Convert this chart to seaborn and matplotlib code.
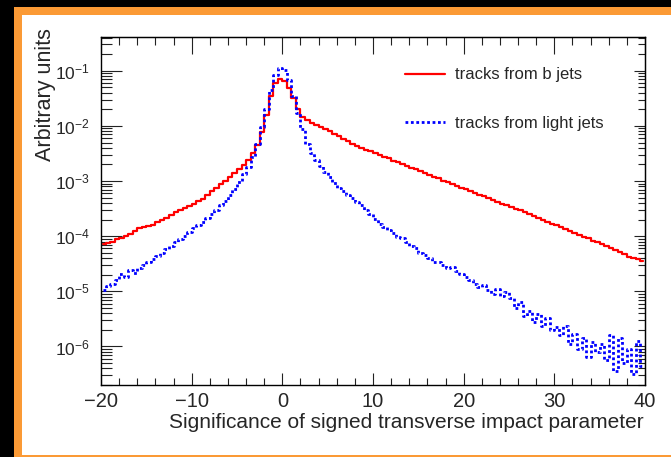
import numpy as np
import pandas as pd
import matplotlib
matplotlib.use('Agg')
import matplotlib.pyplot as plt
from matplotlib.patches import Rectangle
from matplotlib.ticker import LogLocator, MultipleLocator, NullFormatter, FixedLocator
import seaborn as sns

# histogram binning (0.5 wide bins from -20 to 40)
bin_lo, bin_hi, bin_w = -20, 40, 0.5

# log10 of the bin contents
log_b_jets = [
    -4.15, -4.12, -4.10, -4.06, -4.03, -3.99, -3.96, -3.90, -3.86, -3.84,
    -3.81, -3.79, -3.75, -3.71, -3.67, -3.62, -3.57, -3.52, -3.49, -3.45,
    -3.41, -3.37, -3.32, -3.25, -3.18, -3.12, -3.05, -2.99, -2.93, -2.86,
    -2.79, -2.71, -2.61, -2.50, -2.35, -2.11, -1.80, -1.45, -1.22, -1.15,
    -1.18, -1.31, -1.49, -1.70, -1.83, -1.89, -1.94, -1.98, -2.02, -2.06,
    -2.10, -2.14, -2.18, -2.23, -2.27, -2.32, -2.36, -2.40, -2.43, -2.46,
    -2.50, -2.53, -2.56, -2.59, -2.63, -2.66, -2.69, -2.72, -2.76, -2.79,
    -2.82, -2.86, -2.89, -2.92, -2.95, -2.99, -3.02, -3.05, -3.09, -3.12,
    -3.15, -3.18, -3.22, -3.25, -3.28, -3.31, -3.35, -3.38, -3.41, -3.44,
    -3.47, -3.50, -3.53, -3.57, -3.60, -3.63, -3.67, -3.70, -3.74, -3.77,
    -3.80, -3.84, -3.87, -3.91, -3.94, -3.98, -4.01, -4.04, -4.08, -4.11,
    -4.14, -4.18, -4.22, -4.25, -4.29, -4.33, -4.37, -4.40, -4.42, -4.45,
]
log_light_jets = [
    -4.97, -4.90, -4.86, -4.80, -4.68, -4.74, -4.62, -4.66, -4.57, -4.52,
    -4.47, -4.42, -4.36, -4.30, -4.23, -4.17, -4.11, -4.05, -3.99, -3.92,
    -3.86, -3.80, -3.74, -3.67, -3.60, -3.52, -3.44, -3.36, -3.26, -3.15,
    -3.02, -2.88, -2.74, -2.56, -2.32, -2.02, -1.70, -1.35, -1.08, -0.95,
    -0.98, -1.17, -1.46, -1.76, -2.05, -2.32, -2.49, -2.62, -2.73, -2.83,
    -2.93, -3.03, -3.12, -3.18, -3.25, -3.31, -3.38, -3.44, -3.52, -3.59,
    -3.68, -3.78, -3.83, -3.88, -3.95, -4.02, -4.04, -4.11, -4.18, -4.22,
    -4.31, -4.35, -4.40, -4.46, -4.47, -4.53, -4.58, -4.56, -4.64, -4.69,
    -4.74, -4.80, -4.86, -4.93, -4.88, -4.98, -5.04, -4.96, -5.08, -5.02,
    -5.12, -5.30, -5.20, -5.45, -5.35, -5.55, -5.42, -5.62, -5.48, -5.70,
    -5.65, -5.80, -5.62, -5.95, -5.78, -6.05, -5.85, -6.20, -5.92, -6.10,
    -5.95, -6.25, -5.80, -6.45, -5.85, -6.30, -6.05, -6.50, -5.90, -6.35,
]

labels = ['tracks from b jets', 'tracks from light jets']
x_title = 'Significance of signed transverse impact parameter'
y_title = 'Arbitrary units'
y_ticks = [1e-6, 1e-5, 1e-4, 1e-3, 1e-2, 1e-1]

centers = np.arange(bin_lo, bin_hi, bin_w) + bin_w / 2
df = pd.DataFrame({
    'sig': np.concatenate([centers, centers]),
    'val': 10 ** np.array(log_b_jets + log_light_jets),
    'sample': [labels[0]] * len(log_b_jets) + [labels[1]] * len(log_light_jets),
})

sns.set_style('ticks')
plt.rcParams['font.family'] = ['Liberation Sans', 'DejaVu Sans']
plt.rcParams['mathtext.fontset'] = 'custom'
plt.rcParams['mathtext.rm'] = 'Liberation Sans'
plt.rcParams['mathtext.it'] = 'Liberation Sans:italic'

W, H = 671, 457
fig = plt.figure(figsize=(W / 100, H / 100), dpi=100, facecolor='black')
# orange frame + white page like the slide it was cut from
fig.patches.append(Rectangle((14 / W, 0), 1, 450 / H, transform=fig.transFigure,
                             facecolor='#fb9a35', edgecolor='none', zorder=-20))
fig.patches.append(Rectangle((22 / W, 2 / H), 1, 440 / H, transform=fig.transFigure,
                             facecolor='white', edgecolor='none', zorder=-10))

ax = fig.add_axes([101 / W, 72 / H, 544 / W, 348 / H])
ax.set_facecolor('white')

sns.lineplot(data=df[df['sample'] == labels[0]], x='sig', y='val', ax=ax,
             color='#ff0000', lw=1.6, drawstyle='steps-mid', estimator=None,
             label=labels[0])
sns.lineplot(data=df[df['sample'] == labels[1]], x='sig', y='val', ax=ax,
             color='#0000ff', lw=2.0, linestyle=(0, (1, 0.95)), drawstyle='steps-mid',
             estimator=None, label=labels[1])

ax.set_yscale('log')
ax.set_xlim(-20, 40)
ax.set_ylim(2.0e-7, 0.41)
ax.set_xlabel('')
ax.set_ylabel('')

ax.xaxis.set_major_locator(MultipleLocator(10))
ax.xaxis.set_minor_locator(MultipleLocator(2))
ax.yaxis.set_major_locator(FixedLocator(y_ticks))
ax.yaxis.set_minor_locator(LogLocator(base=10, subs=np.arange(2, 10), numticks=20))
ax.yaxis.set_minor_formatter(NullFormatter())

for s in ax.spines.values():
    s.set_visible(True)
    s.set_linewidth(1.0)
    s.set_color('black')

ax.tick_params(axis='x', which='major', direction='in', length=9, width=0.8,
               labelsize=14.5, pad=5, color='#222222')
ax.tick_params(axis='x', which='minor', direction='in', length=5, width=0.8, color='#222222')
ax.tick_params(axis='y', which='major', direction='in', length=15, width=0.8,
               labelsize=12.5, pad=8, color='#222222')
ax.tick_params(axis='y', which='minor', direction='in', length=8, width=0.8, color='#222222')

# ticks on the opposite sides are drawn with their own lengths
secx = ax.secondary_xaxis('top')
secx.xaxis.set_major_locator(MultipleLocator(10))
secx.xaxis.set_minor_locator(MultipleLocator(2))
secx.tick_params(which='major', direction='in', length=12, width=0.8, labeltop=False, color='#222222')
secx.tick_params(which='minor', direction='in', length=6, width=0.8, color='#222222')

secy = ax.secondary_yaxis('right')
secy.yaxis.set_major_locator(FixedLocator(y_ticks))
secy.yaxis.set_minor_locator(LogLocator(base=10, subs=np.arange(2, 10), numticks=20))
secy.yaxis.set_minor_formatter(NullFormatter())
secy.tick_params(which='major', direction='in', length=8, width=0.8, labelright=False, color='#222222')
secy.tick_params(which='minor', direction='in', length=5, width=0.8, color='#222222')

fig.text(46 / W, 1 - 28 / H, y_title, rotation=90, ha='center', va='top', fontsize=15.5)
fig.text(644 / W, 1 - 422 / H, x_title, ha='right', va='center', fontsize=15)

ax.legend(frameon=False, loc='center left', bbox_to_anchor=(405 / W, 1 - 99 / H),
          bbox_transform=fig.transFigure, borderpad=0, borderaxespad=0,
          handlelength=2.4, handletextpad=0.6, labelspacing=2.0, fontsize=12)

fig.savefig('out.png', dpi=100, facecolor=fig.get_facecolor())
